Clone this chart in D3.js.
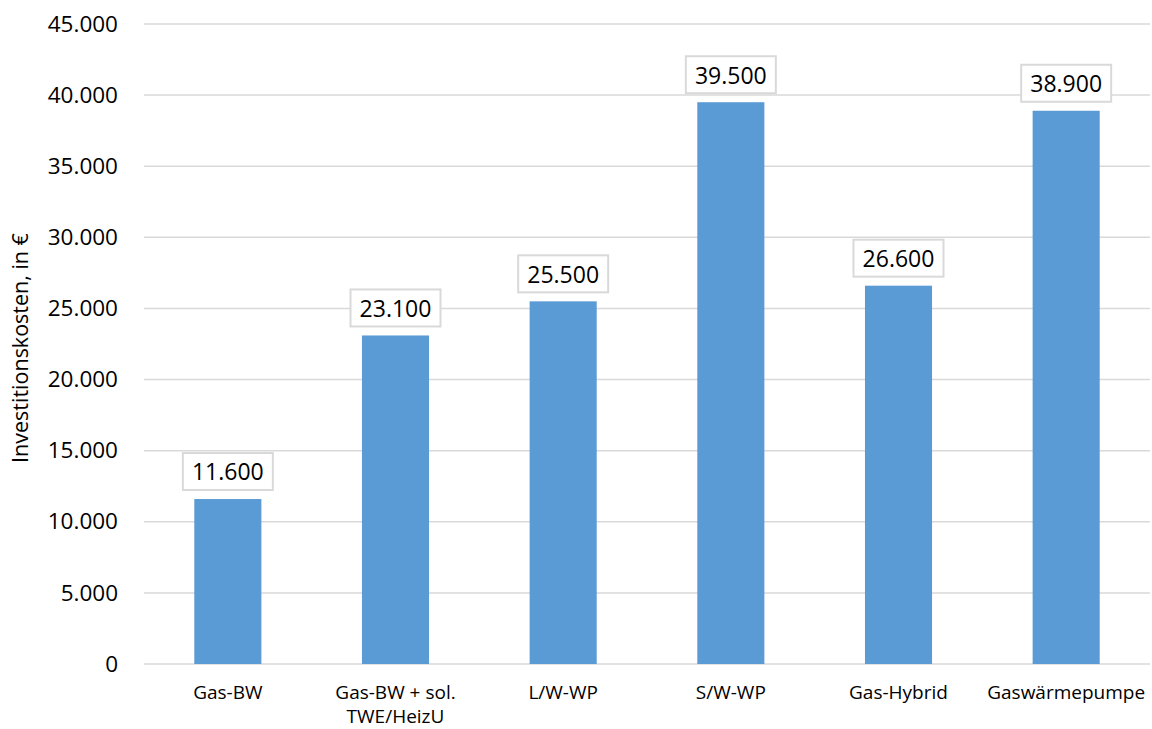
<!DOCTYPE html>
<html>
<head>
<meta charset="utf-8">
<script src="https://cdn.jsdelivr.net/npm/d3@7"></script>
<style>
    body { margin: 0; background: #fff; }
    text { font-family: "Open Sans", "Noto Sans", sans-serif; fill: #000; }
</style>
</head>
<body>
<svg id="canvas" width="1152" height="729"></svg>
<script>
(function () {

    // Data.
    const categories = ["Gas-BW", "Gas-BW + sol.\nTWE/HeizU", "L/W-WP", "S/W-WP", "Gas-Hybrid", "Gaswärmepumpe"];
    const costs = [11600, 23100, 25500, 39500, 26600, 38900];
    const yTicks = [0, 5000, 10000, 15000, 20000, 25000, 30000, 35000, 40000, 45000];
    const yTitle = "Investitionskosten, in €";

    let padding = { top: 24, bottom: 65, left: 144, right: 2 };

    let svg = d3.select("#canvas");
    let width = +svg.attr("width") - padding.left - padding.right;
    let height = +svg.attr("height") - padding.top - padding.bottom;

    // German number format (dot as thousands separator).
    let de = d3.formatLocale({ decimal: ",", thousands: ".", grouping: [3], currency: ["", " €"] });
    let fmt = de.format(",.0f");

    let xScale = d3.scaleBand().domain(categories).range([0, width]).paddingInner(0.6).paddingOuter(0.3);
    let yScale = d3.scaleLinear().domain([0, 45000]).range([height, 0]);

    let g = svg.append("g")
        .attr("transform", "translate(" + padding.left + ", " + padding.top + ")");

    // Gridlines.
    g.append("g")
        .selectAll("line")
        .data(yTicks)
        .join("line")
        .attr("x1", 0)
        .attr("x2", width)
        .attr("y1", d => yScale(d))
        .attr("y2", d => yScale(d))
        .attr("stroke", "#d9d9d9")
        .attr("stroke-width", 1.5);

    // Y axis labels.
    let yAxis = d3.axisLeft(yScale).tickValues(yTicks).tickFormat(fmt).tickSize(0).tickPadding(26);
    let yAxisG = g.append("g").call(yAxis);
    yAxisG.select(".domain").remove();
    yAxisG.selectAll("text")
        .attr("font-size", 22.5)
        .style("font-family", "'Open Sans', sans-serif");

    // Bars.
    g.append("g")
        .selectAll("rect")
        .data(costs)
        .join("rect")
        .attr("x", (d, i) => xScale(categories[i]))
        .attr("y", d => yScale(d))
        .attr("width", xScale.bandwidth())
        .attr("height", d => height - yScale(d))
        .attr("fill", "#5b9bd5");

    // Value labels with boxes.
    let labels = g.append("g")
        .selectAll("g")
        .data(costs)
        .join("g")
        .attr("transform", (d, i) => "translate(" + (xScale(categories[i]) + xScale.bandwidth() / 2) + ", " + (yScale(d) - 27) + ")");
    labels.append("rect")
        .attr("x", -45)
        .attr("y", -19)
        .attr("width", 90)
        .attr("height", 37)
        .attr("fill", "#fff")
        .attr("stroke", "#d9d9d9")
        .attr("stroke-width", 2);
    labels.append("text")
        .attr("text-anchor", "middle")
        .attr("dy", "0.36em")
        .attr("font-size", 23)
        .text(d => fmt(d));

    // Category labels.
    let cat = g.append("g")
        .selectAll("text")
        .data(categories)
        .join("text")
        .attr("text-anchor", "middle")
        .attr("font-size", 19)
        .attr("x", d => xScale(d) + xScale.bandwidth() / 2)
        .attr("y", height + 35);
    cat.selectAll("tspan")
        .data(d => d.split("\n"))
        .join("tspan")
        .attr("x", function () { return d3.select(this.parentNode).attr("x"); })
        .attr("dy", (d, i) => i === 0 ? 0 : 24)
        .text(d => d);

    // Y axis title.
    svg.append("text")
        .attr("transform", "translate(28, 348) rotate(-90)")
        .attr("text-anchor", "middle")
        .attr("font-size", 21.5)
        .text(yTitle);

})();
</script>
</body>
</html>
